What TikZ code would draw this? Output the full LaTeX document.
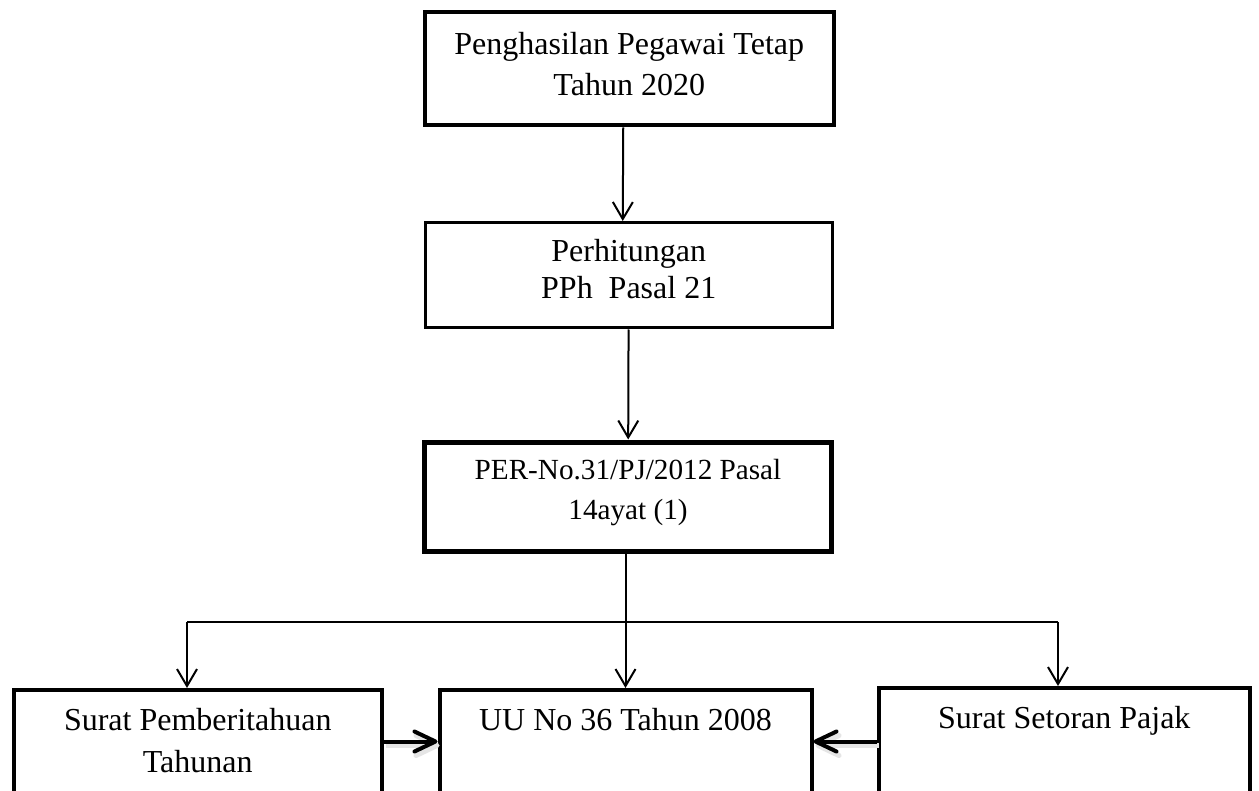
\documentclass[tikz,border=0pt]{standalone}
\usepackage{fontspec}
\setmainfont{Liberation Serif}
\usetikzlibrary{arrows.meta, positioning}

\begin{document}
\begin{tikzpicture}[x=0.5pt, y=-0.5pt,
    box/.style={draw, anchor=north, inner sep=0pt, align=flush center,
        font=\fontsize{16}{20.6}\selectfont},
    thin arrow/.style={line width=1pt,
        -{Straight Barb[length=8.5pt, width=10pt]}},
    thick arrow/.style={line width=2pt,
        -{Straight Barb[length=10.5pt, width=10pt, round]},
        preaction={draw=black!10, line width=2.5pt,
            -{Straight Barb[length=10.5pt, width=10pt, round]},
            transform canvas={shift={(1pt,-2pt)}}}}]
    \path[use as bounding box, fill=white] (0,0) rectangle (1259,791);

    \node[box, line width=2pt, text width=204.25pt,
        text height=21.1pt, text depth=35.4pt] (gaji) at (629.25,10.5)
        {Penghasilan Pegawai Tetap\\Tahun 2020};
    \node[box, line width=1.5pt, text width=203.75pt,
        font=\fontsize{16}{18.35}\selectfont,
        text height=19.5pt, text depth=33.25pt] (hitung) at (628.75,221)
        {Perhitungan\\PPh\ \ Pasal 21};
    \node[box, line width=2.5pt, text width=203.5pt,
        font=\fontsize{14.6}{20}\selectfont,
        text height=18.75pt, text depth=35.75pt] (per) at (628,439.5)
        {PER-No.31/PJ/2012 Pasal\\14ayat (1)};
    \node[box, line width=2pt, text width=183.75pt,
        font=\fontsize{16}{20.85}\selectfont,
        text height=20.15pt, text depth=35.85pt] (spt) at (197.75,688)
        {Surat Pemberitahuan\\Tahunan};
    \node[box, line width=2pt, text width=186pt,
        text height=20pt, text depth=36pt] (uu) at (625.5,688)
        {UU No 36 Tahun 2008};
    \node[box, line width=2pt, text width=185.75pt,
        text height=20pt, text depth=37pt] (ssp) at (1064.25,686)
        {Surat Setoran Pajak};

    \coordinate (forkl) at (187,622);
    \coordinate (forkr) at (1058,622);
    \coordinate (lowy) at (0,741.5);

    \draw[thin arrow] ([xshift=-3pt]gaji.south) -- ([xshift=-3pt]hitung.north);
    \draw[thin arrow] (hitung) -- (per);
    \draw[thin arrow] (per.south -| uu.north) -- (uu.north);
    \draw[line width=1pt] (forkl) -- (forkr);
    \draw[thin arrow] (forkl) -- (forkl |- spt.north);
    \draw[thin arrow] (forkr) -- (forkr |- ssp.north);

    \draw[thick arrow] (lowy -| spt.east) -- (lowy -| uu.west);
    \draw[thick arrow] (lowy -| ssp.west) -- (lowy -| uu.east);
\end{tikzpicture}
\end{document}
